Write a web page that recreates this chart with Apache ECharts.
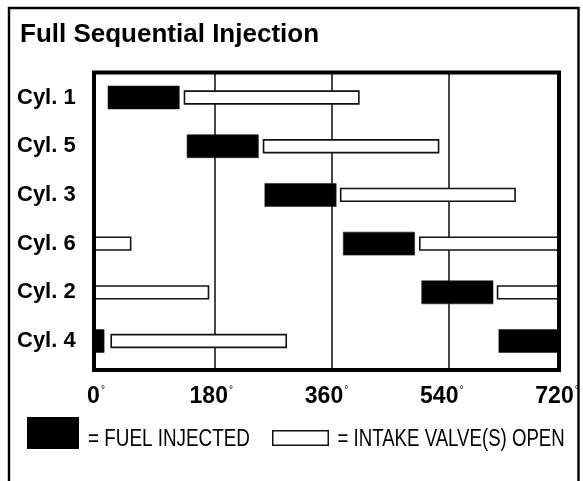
<!DOCTYPE html>
<html>
<head>
<meta charset="utf-8">
<script src="https://cdn.jsdelivr.net/npm/echarts@6/dist/echarts.min.js"></script>
<style>
  html, body { margin: 0; padding: 0; background: #fff; }
  #chart { width: 583px; height: 481px; }
</style>
</head>
<body>
<div id="chart"></div>
<script>
// Firing order rows, top to bottom
const cylinders = ['Cyl. 1', 'Cyl. 5', 'Cyl. 3', 'Cyl. 6', 'Cyl. 2', 'Cyl. 4'];
// Injection pulse, crank degrees (ends past 720 wrap to the next cycle)
const injectStart = [15, 137, 257, 378, 499, 618];
const injectEnd = [125, 247, 367, 488, 609, 729];
// Intake valve open window, crank degrees
const intakeStart = [133, 255, 374, 496, 616, 20];
const intakeEnd = [402, 525, 643, 770, 890, 290];
// Reference crank angles and axis tick labels
const gridAngles = [180, 360, 540];
const tickLabels = [0, 180, 360, 540, 720];
const CYCLE = 720;

const BOLD = "'Liberation Sans', Arial, Helvetica, sans-serif";
const PLAIN = "'Liberation Sans', Arial, Helvetica, sans-serif";

const chart = echarts.init(document.getElementById('chart'));

function rows(starts, ends) {
  return cylinders.map((c, i) => [i, starts[i], ends[i]]);
}

function makeRender(kind) {
  return function (params, api) {
    const row = api.value(0);
    const s = api.value(1);
    const e = api.value(2);
    const segs = [[s, e]];
    if (e > CYCLE) segs.push([s - CYCLE, e - CYCLE]);
    const band = api.size([0, 1])[1];
    const h = kind === 'fuel' ? band * 0.472 : band * 0.262;
    const cs = params.coordSys;
    const clip = { x: cs.x - 1, y: cs.y, width: cs.width + 2, height: cs.height };
    const children = [];
    segs.forEach(function (seg) {
      const p0 = api.coord([seg[0], row]);
      const p1 = api.coord([seg[1], row]);
      const shape = echarts.graphic.clipRectByRect(
        { x: p0[0], y: p0[1] - h / 2, width: p1[0] - p0[0], height: h }, clip);
      if (!shape) return;
      children.push({
        type: 'rect',
        shape: shape,
        style: kind === 'fuel'
          ? { fill: '#000', stroke: '#222', lineWidth: 0.6 }
          : { fill: '#fff', stroke: '#111', lineWidth: 1.6 }
      });
    });
    return { type: 'group', children: children };
  };
}

const option = {
  backgroundColor: '#fff',
  animation: false,
  title: {
    text: 'Full Sequential Injection',
    left: 15,
    top: 17,
    textStyle: { fontFamily: BOLD, fontWeight: 'bold', fontSize: 26, color: '#000' }
  },
  grid: { left: 96, top: 74, width: 461, height: 294, containLabel: false },
  xAxis: [
    {
      type: 'value', min: -3.5, max: 707.7,
      show: false
    },
    {
      type: 'value', min: 0, max: 720, interval: 180, position: 'bottom',
      axisLine: { show: false }, axisTick: { show: false }, splitLine: { show: false },
      axisLabel: {
        margin: 17,
        showMinLabel: true, showMaxLabel: true,
        formatter: function (v) {
          return tickLabels.indexOf(v) >= 0 ? '{n|' + v + '}{d|°}' : '';
        },
        rich: {
          n: { fontFamily: BOLD, fontWeight: 'bold', fontSize: 23, color: '#000', lineHeight: 24 },
          d: { fontFamily: BOLD, fontSize: 10, color: '#000', verticalAlign: 'top', lineHeight: 10, padding: [0, 0, 0, 1] }
        }
      }
    }
  ],
  yAxis: {
    type: 'value', inverse: true, min: -0.483, max: 5.554,
    axisLine: { show: false }, axisTick: { show: false }, splitLine: { show: false },
    axisLabel: {
      customValues: [0, 1, 2, 3, 4, 5],
      align: 'left',
      margin: 79,
      formatter: function (v) { return cylinders[Math.round(v)] || ''; },
      fontFamily: BOLD, fontWeight: 'bold', fontSize: 22, color: '#000'
    }
  },
  series: [
    {
      name: 'INTAKE VALVE(S) OPEN',
      type: 'custom',
      xAxisIndex: 0,
      renderItem: makeRender('intake'),
      encode: { x: [1, 2], y: 0 },
      data: rows(intakeStart, intakeEnd),
      z: 2,
      markLine: {
        silent: true,
        symbol: ['none', 'none'],
        label: { show: false },
        lineStyle: { color: '#1a1a1a', width: 1.6, type: 'solid' },
        data: gridAngles.map(function (a) { return { xAxis: a }; }),
        z: 1
      }
    },
    {
      name: 'FUEL INJECTED',
      type: 'custom',
      xAxisIndex: 0,
      renderItem: makeRender('fuel'),
      encode: { x: [1, 2], y: 0 },
      data: rows(injectStart, injectEnd),
      z: 3
    }
  ],
  graphic: [
    // page border
    { type: 'rect', z: 100, shape: { x: 9, y: 8, width: 569.5, height: 500 },
      style: { fill: 'none', stroke: '#000', lineWidth: 2.4 } },
    // plot frame
    { type: 'rect', z: 100, shape: { x: 94, y: 72.5, width: 465, height: 297.5 },
      style: { fill: 'none', stroke: '#000', lineWidth: 4 } },
    // legend: fuel injected
    { type: 'rect', z: 100, shape: { x: 27, y: 417, width: 52, height: 32 },
      style: { fill: '#000' } },
    { type: 'text', z: 100, x: 88, y: 440, scaleX: 0.82,
      style: { text: '= FUEL INJECTED', x: 0, y: 0,
        font: '23px ' + PLAIN, fill: '#000', verticalAlign: 'middle' } },
    // legend: intake valve open
    { type: 'rect', z: 100, shape: { x: 272.75, y: 430.75, width: 55.5, height: 14.5 },
      style: { fill: '#fff', stroke: '#111', lineWidth: 1.5 } },
    { type: 'text', z: 100, x: 337.5, y: 440, scaleX: 0.81,
      style: { text: '= INTAKE VALVE(S) OPEN', x: 0, y: 0,
        font: '23px ' + PLAIN, fill: '#000', verticalAlign: 'middle' } }
  ]
};

chart.setOption(option);
</script>
</body>
</html>
